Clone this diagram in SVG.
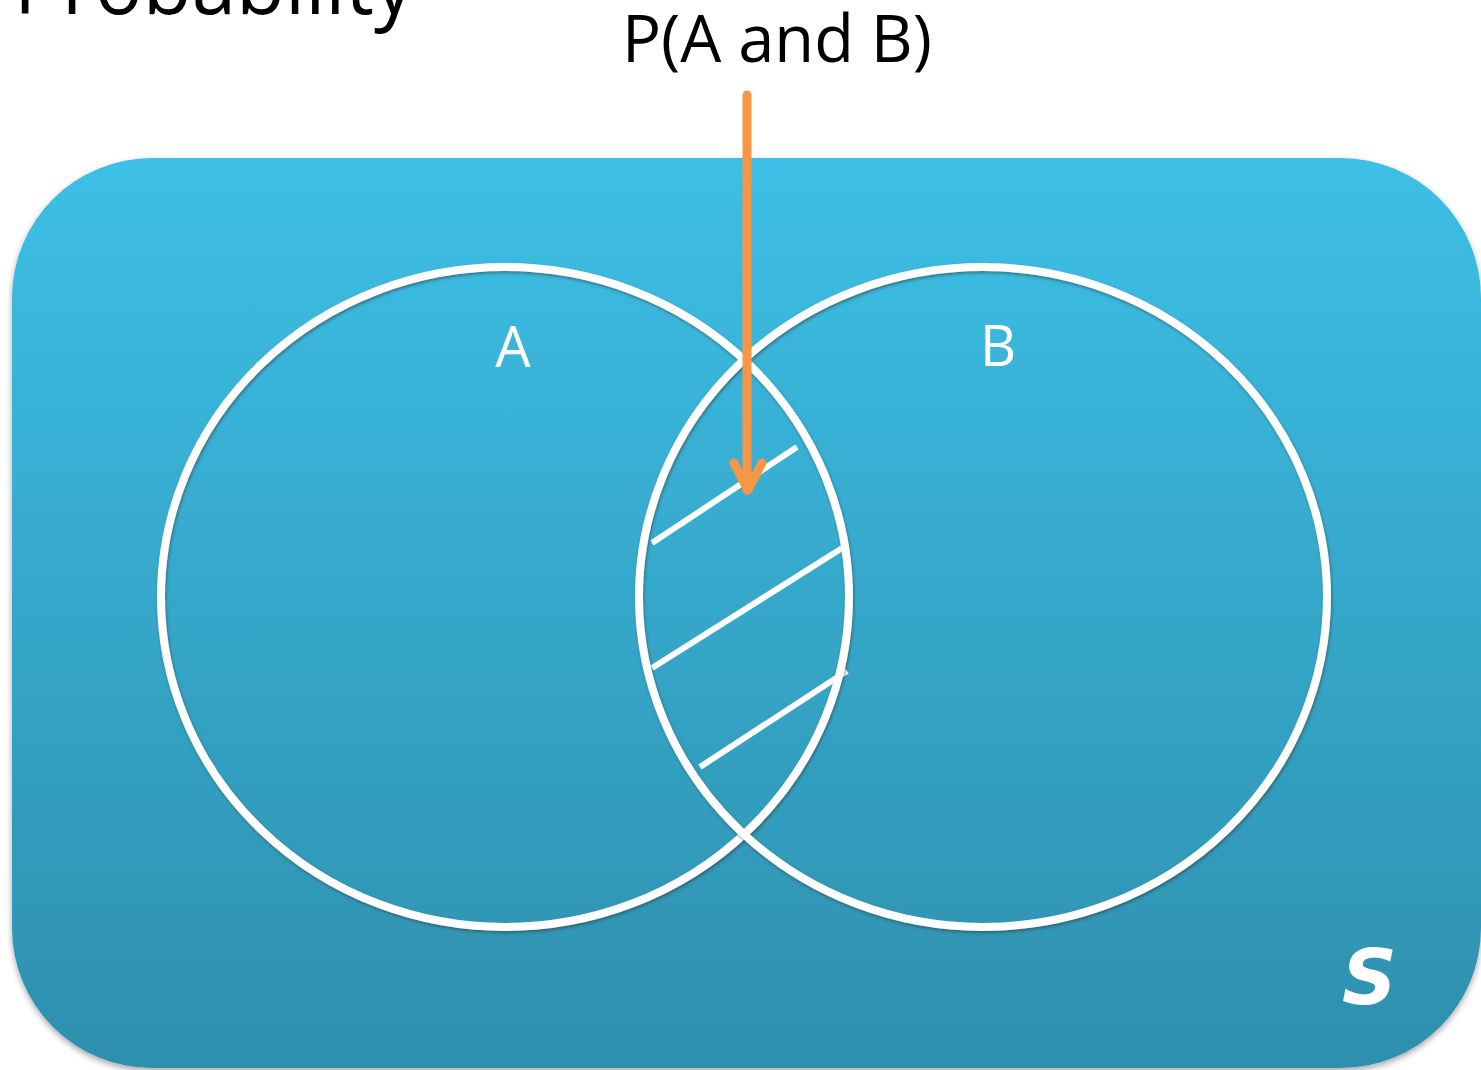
<svg xmlns="http://www.w3.org/2000/svg" width="1481" height="1070" viewBox="0 0 1481 1070">
<defs>
<linearGradient id="bg" x1="0" y1="0" x2="0" y2="1">
<stop offset="0" stop-color="#3DBFE6"/>
<stop offset="1" stop-color="#2E8FAD"/>
</linearGradient>
<filter id="sh" x="-5%" y="-5%" width="110%" height="110%">
<feDropShadow dx="0" dy="3" stdDeviation="3" flood-color="#000" flood-opacity="0.35"/>
</filter>
<filter id="csh" x="-5%" y="-5%" width="110%" height="110%">
<feDropShadow dx="1" dy="2" stdDeviation="1.5" flood-color="#333" flood-opacity="0.5"/>
</filter>
</defs>
<style>
.ttl{font-family:"Open Sans","Liberation Sans",Arial,sans-serif;fill:#000}
.lbl{font-family:"Open Sans","Liberation Sans",sans-serif;fill:#fff;font-size:56px}
.circ{fill:none;stroke:#fff;stroke-width:8}
.hatch{stroke:#fff;stroke-width:6;fill:none}
.arrow{stroke:#F79646;stroke-width:9;fill:none;stroke-linecap:round;stroke-linejoin:round}
</style>
<text class="ttl" x="14" y="14" font-size="84" textLength="400" lengthAdjust="spacingAndGlyphs">Probability</text>
<g id="S-set">
<rect x="12" y="158" width="1469" height="910" rx="140" ry="140" fill="url(#bg)" filter="url(#sh)"/>
<text x="1342" y="1004" font-family="DejaVu Sans,sans-serif" font-style="italic" font-weight="bold" font-size="76" fill="#fff">S</text>
</g>
<g id="hatching">
<line class="hatch" x1="652" y1="543" x2="797" y2="447"/>
<line class="hatch" x1="652" y1="668" x2="847" y2="545"/>
<line class="hatch" x1="700" y1="767" x2="847" y2="671"/>
</g>
<g id="A">
<ellipse class="circ" cx="505" cy="597" rx="344" ry="330" filter="url(#csh)"/>
<text class="lbl" x="513" y="367" text-anchor="middle">A</text>
</g>
<g id="B">
<ellipse class="circ" cx="983" cy="597" rx="344" ry="330" filter="url(#csh)"/>
<text class="lbl" x="998" y="366" text-anchor="middle">B</text>
</g>
<g id="label">
<text class="ttl" x="622" y="62" font-size="66" textLength="310" lengthAdjust="spacingAndGlyphs">P(A and B)</text>
</g>
<g id="connectors">
<line class="arrow" x1="747" y1="95" x2="747" y2="490"/>
<polyline class="arrow" points="734,463 748,490 762,463" stroke-width="10"/>
</g>
</svg>
